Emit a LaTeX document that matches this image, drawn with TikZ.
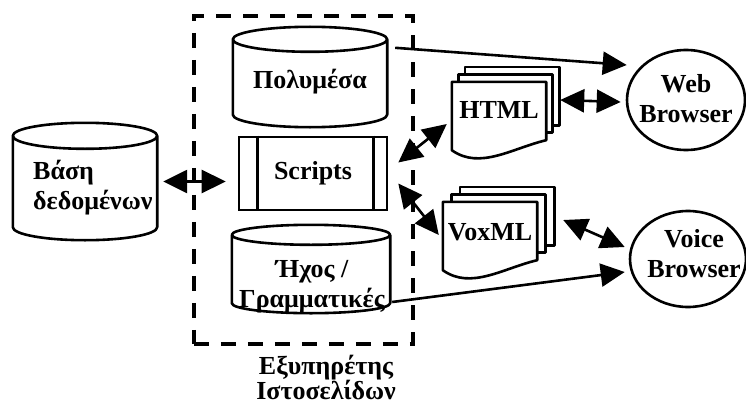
\documentclass[tikz,border=0pt]{standalone}
\usepackage{fontspec}
\setmainfont{Liberation Serif}
\usetikzlibrary{arrows.meta, positioning, calc, shapes.geometric}
\newcommand{\bigfont}{\fontsize{26}{30}\selectfont\bfseries}
\newcommand{\capfont}{\fontsize{26}{25}\selectfont\bfseries}
\tikzset{
  outline/.style={line width=2.6pt, line join=round},
  cylarea/.style={rectangle, draw=none, inner sep=0pt},
  lbl/.style={font=\bigfont, align=center, inner sep=0pt},
  scriptbox/.style={rectangle, draw, line width=2.6pt, inner sep=0pt,
                    minimum width=148pt, minimum height=73pt, font=\bigfont},
  pagebox/.style={rectangle, draw=none, inner sep=0pt,
                  minimum width=94pt, minimum height=68pt, font=\bigfont},
  browser/.style={ellipse, draw, line width=2.6pt, inner sep=0pt},
  srvbox/.style={draw, line width=3.6pt, dash pattern=on 15pt off 12pt},
  dblarr/.style={{Triangle[length=24pt,width=23pt]}-{Triangle[length=24pt,width=23pt]},
                 line width=2.6pt},
  onearr/.style={-{Triangle[length=24pt,width=23pt]}, line width=2.6pt},
}
% cylinder outline over a named area: name, end radius
\newcommand{\cylout}[2]{%
  \draw[outline] let \p1=(#1.north west), \p2=(#1.south east),
    \n1={(\x2-\x1)/2} in
    (\x1,\y1-#2pt) -- (\x1,\y2+#2pt)
    arc[start angle=180, end angle=360, x radius=\n1, y radius=#2pt]
    -- (\x2,\y1-#2pt)
    (\x1+\n1,\y1-#2pt) ellipse[x radius=\n1, y radius=#2pt];}
% stack of three pages behind a named front page
\newcommand{\docout}[3]{% name, dx, dy
  \foreach \k in {2,1} {
    \draw[outline, fill=white]
      ($(#1.north west)+(\k*#2,-\k*#3)$) rectangle ($(#1.south east)+(\k*#2,-\k*#3-10)$);
  }
  \draw[outline, fill=white] (#1.north west) -- (#1.south west)
    .. controls +(28,20) and +(-34,8) .. ($(#1.south east)+(0,-10)$)
    -- (#1.north east) -- cycle;}
\begin{document}
\begin{tikzpicture}[x=1pt, y=-1pt]
  \useasboundingbox (0,0) rectangle (746,412);

  % server frame
  \node[srvbox, minimum width=219pt, minimum height=328pt, anchor=north west] (srv) at (192,14) {};
  \node[font=\capfont, align=center, inner sep=0pt] (srvname) at (326,378) {Εξυπηρέτης\\Ιστοσελίδων};

  % storage
  \node[cylarea, minimum width=144pt, minimum height=117pt] (db) at (85,181.5) {};
  \cylout{db}{13}
  \node[lbl, align=left, anchor=west] (dbtext) at (33,188) {Βάση\\δεδομένων};

  \node[cylarea, minimum width=154pt, minimum height=100pt] (poly) at (310,77) {};
  \cylout{poly}{12.5}
  \node[lbl] (polytext) at (310,82) {Πολυμέσα};

  \node[cylarea, minimum width=158pt, minimum height=88pt] (hx) at (311,269) {};
  \cylout{hx}{10}
  \node[lbl] (hxtext) at (312,287) {Ήχος /\\Γραμματικές};

  % scripts
  \node[scriptbox] (sc) at (313,173.5) {Scripts};
  \draw[outline] ($(sc.north west)+(20,0)$) -- ($(sc.south west)+(20,0)$);
  \draw[outline] ($(sc.north east)+(-15,0)$) -- ($(sc.south east)+(-15,0)$);

  % documents
  \node[pagebox] (html) at (499,116) {};
  \docout{html}{6.5}{7.5}
  \node[lbl] (htmltext) at (html) [yshift=6pt] {HTML};

  \node[pagebox] (vox) at (490,236) {};
  \docout{vox}{8.5}{7.5}
  \node[lbl] (voxtext) at (vox) [yshift=4pt] {VoxML};

  % browsers
  \node[browser, minimum width=118pt, minimum height=100pt] (web) at (686,100) {};
  \node[lbl, align=center] (webtext) at (web) [yshift=1pt] {Web\\Browser};
  \node[browser, minimum width=116pt, minimum height=96pt] (voice) at (688,259) {};
  \node[lbl, align=center] (voicetext) at (voice) [xshift=6pt, yshift=5pt] {Voice\\Browser};

  % connectors
  \draw[dblarr, shorten <=6pt, shorten >=12pt] (db.east) -- (db.east -| sc.west);
  \draw[dblarr] ($(sc.east)+(10,-11)$) -- ($(html.west)+(-5,8)$);
  \draw[dblarr] ($(sc.east)+(10,10)$) -- ($(vox.west)+(-4,-1)$);
  \draw[dblarr] ($(html.east)+(14,-16)$) -- ($(web.west)+(-5,2)$);
  \draw[dblarr] ($(vox.east)+(26,-16)$) -- ($(voice.west)+(-4,-12)$);
  \draw[onearr] ($(poly.north east)+(8,21)$) -- ($(web.west)+(1,-35)$);
  \draw[onearr] ($(hx.east)+(2,33)$) -- ($(voice.west)+(-4,13)$);
\end{tikzpicture}
\end{document}
